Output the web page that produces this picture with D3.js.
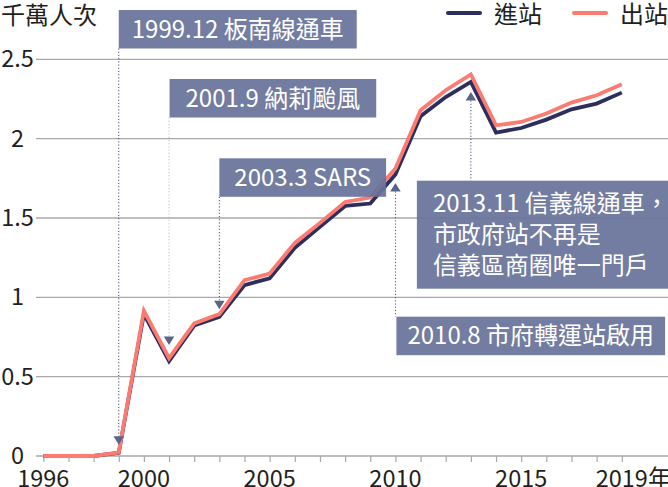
<!DOCTYPE html>
<html>
<head>
<meta charset="utf-8">
<script src="https://cdn.jsdelivr.net/npm/d3@7"></script>
<style>
  html, body { margin: 0; padding: 0; background: #ffffff; }
  svg { display: block; font-family: "Noto Sans CJK TC", "Noto Sans CJK SC", "Noto Sans", sans-serif; }
</style>
</head>
<body>
<svg id="chart" width="668" height="487"></svg>
<script>
// ---- data ----
const years = [1996, 1997, 1998, 1999, 2000, 2001, 2002, 2003, 2004, 2005, 2006, 2007,
               2008, 2009, 2010, 2011, 2012, 2013, 2014, 2015, 2016, 2017, 2018, 2019];
// 進站 (entries), 千萬人次
const entryValues = [0, 0, 0, 0.02, 0.895, 0.598, 0.822, 0.877, 1.077, 1.119, 1.312, 1.444,
                     1.576, 1.591, 1.774, 2.141, 2.262, 2.357, 2.038, 2.067, 2.120, 2.185, 2.221, 2.290];
// 出站 (exits), 千萬人次
const exitValues  = [0, 0, 0, 0.022, 0.915, 0.617, 0.836, 0.894, 1.108, 1.150, 1.343, 1.469,
                     1.601, 1.629, 1.812, 2.179, 2.305, 2.405, 2.084, 2.105, 2.158, 2.227, 2.273, 2.343];
const seriesNames = ["進站", "出站"];
const yTickValues = [0, 0.5, 1, 1.5, 2, 2.5];
const xTickLabelYears = [1996, 2000, 2005, 2010, 2015, 2019];
const xLastSuffix = "年";
const unitLabel = "千萬人次";

const annotationYears = [1999, 2001, 2003, 2013, 2010];
const annotationTexts = [
  ["1999.12 板南線通車"],
  ["2001.9 納莉颱風"],
  ["2003.3 SARS"],
  ["2013.11 信義線通車，", "市政府站不再是", "信義區商圈唯一門戶"],
  ["2010.8 市府轉運站啟用"]
];

// ---- layout / style ----
const W = 668, H = 487;
const colors = { entry: "#2c2e5e", exit: "#fb7b71", box: "#68729a", tri: "#5a6488",
                 dot: "#4a5072", dotLight: "#b9bdcc", grid: "#a9a9a9", text: "#231f20" };
const fontSize = 23.5;
// annotation layout: box top, box left offset from year x, direction, triangle offset from point, pad
const annLayout = [
  { top: 10,    dx: 0,   dir: "down", off: 8,  pad: 13, light: false },
  { top: 79,    dx: 0.5, dir: "down", off: 16, pad: 16, light: true },
  { top: 158.3, dx: 0,   dir: "down", off: 7.5,pad: 15, light: false },
  { top: 180.7, dx: -54, dir: "up",   off: 10, pad: 16, light: false },
  { top: 316.7, dx: 1,   dir: "up",   off: 8.5,pad: 11, light: false }
];

const svg = d3.select("#chart");
const x = d3.scaleLinear().domain([1996, 2019]).range([43.3, 621.8]);
const y = d3.scaleLinear().domain([0, 2.5]).range([456, 59.3]);
const gridLeft = 36;

// gridlines
svg.append("g").selectAll("line").data(yTickValues).join("line")
  .attr("x1", gridLeft).attr("x2", W)
  .attr("y1", d => y(d)).attr("y2", d => y(d))
  .attr("stroke", colors.grid).attr("stroke-width", 1.3);

// y labels (centered)
svg.append("g").selectAll("text").data(yTickValues).join("text")
  .attr("x", 17.5).attr("y", d => y(d) + 8)
  .attr("text-anchor", "middle")
  .attr("font-size", fontSize).attr("fill", colors.text)
  .text(d => d3.format("~g")(d));

// x axis ticks
const xAxis = d3.axisBottom(x).tickValues(years).tickSize(6).tickFormat("");
const gx = svg.append("g").attr("transform", `translate(0,${y(0)})`).call(xAxis);
gx.select(".domain").remove();
gx.selectAll(".tick line").attr("stroke", colors.grid).attr("stroke-width", 1.2);

// x labels
const xl = svg.append("g");
xTickLabelYears.forEach((yr, i) => {
  const t = xl.append("text")
    .attr("y", 486.5).attr("font-size", fontSize).attr("fill", colors.text)
    .attr("text-anchor", "start").text(String(yr));
  const w = t.node().getComputedTextLength();
  t.attr("x", x(yr) - w / 2);
  if (i === xTickLabelYears.length - 1) t.append("tspan").text(xLastSuffix);
});

// lines
const line = d3.line().x((d, i) => x(years[i])).y(d => y(d)).curve(d3.curveLinear);
svg.append("path").datum(entryValues).attr("d", line)
  .attr("fill", "none").attr("stroke", colors.entry).attr("stroke-width", 3.8);
svg.append("path").datum(exitValues).attr("d", line)
  .attr("fill", "none").attr("stroke", colors.exit).attr("stroke-width", 3.8);

// annotations
const triW = 10.5, triH = 8.5;
const annG = svg.append("g");
annotationYears.forEach((yr, i) => {
  const L = annLayout[i];
  const lines = annotationTexts[i];
  const idx = years.indexOf(yr);
  const px = x(yr);
  const n = lines.length;
  const boxH = n > 1 ? n * 31 + 15 : 38.5;
  const firstBase = n > 1 ? 31 : 27.5;
  const left = px + L.dx;

  // measure text
  const tmp = annG.append("text").attr("font-size", fontSize + 0.5);
  let maxW = 0;
  lines.forEach(s => { tmp.text(s); maxW = Math.max(maxW, tmp.node().getComputedTextLength()); });
  tmp.remove();
  const boxW = maxW + 2 * L.pad;

  let tip, lineY1, lineY2, triPts;
  if (L.dir === "down") {
    tip = y(entryValues[idx]) - L.off;
    lineY1 = L.top + boxH; lineY2 = tip - triH;
    triPts = [[px - triW / 2, tip - triH], [px + triW / 2, tip - triH], [px, tip]];
  } else {
    tip = y(entryValues[idx]) + L.off;
    lineY1 = tip + triH; lineY2 = L.top;
    triPts = [[px - triW / 2, tip + triH], [px + triW / 2, tip + triH], [px, tip]];
  }
  annG.append("line")
    .attr("x1", px).attr("x2", px).attr("y1", lineY1).attr("y2", lineY2)
    .attr("stroke", L.light ? colors.dotLight : colors.dot)
    .attr("stroke-width", 1).attr("stroke-dasharray", "1.2,2");
  annG.append("path")
    .attr("d", "M" + triPts.map(p => p.join(",")).join("L") + "Z")
    .attr("fill", colors.tri);
  annG.append("rect")
    .attr("x", left).attr("y", L.top).attr("width", boxW).attr("height", boxH)
    .attr("fill", colors.box).attr("fill-opacity", 0.93);
  const t = annG.append("text").attr("font-size", fontSize + 0.5).attr("fill", "#ffffff");
  lines.forEach((s, j) => {
    t.append("tspan").attr("x", left + L.pad).attr("y", L.top + firstBase + j * 31).text(s);
  });
});

// title
svg.append("text").attr("x", 1).attr("y", 23.5)
  .attr("font-size", 24).attr("fill", colors.text).text(unitLabel);

// legend
const legendX = [448, 574];
const legendColors = [colors.entry, colors.exit];
seriesNames.forEach((name, i) => {
  svg.append("line").attr("x1", legendX[i]).attr("x2", legendX[i] + 32)
    .attr("y1", 13).attr("y2", 13)
    .attr("stroke", legendColors[i]).attr("stroke-width", 4).attr("stroke-linecap", "round");
  svg.append("text").attr("x", legendX[i] + 46).attr("y", 23)
    .attr("font-size", 24).attr("fill", colors.text).text(name);
});
</script>
</body>
</html>
